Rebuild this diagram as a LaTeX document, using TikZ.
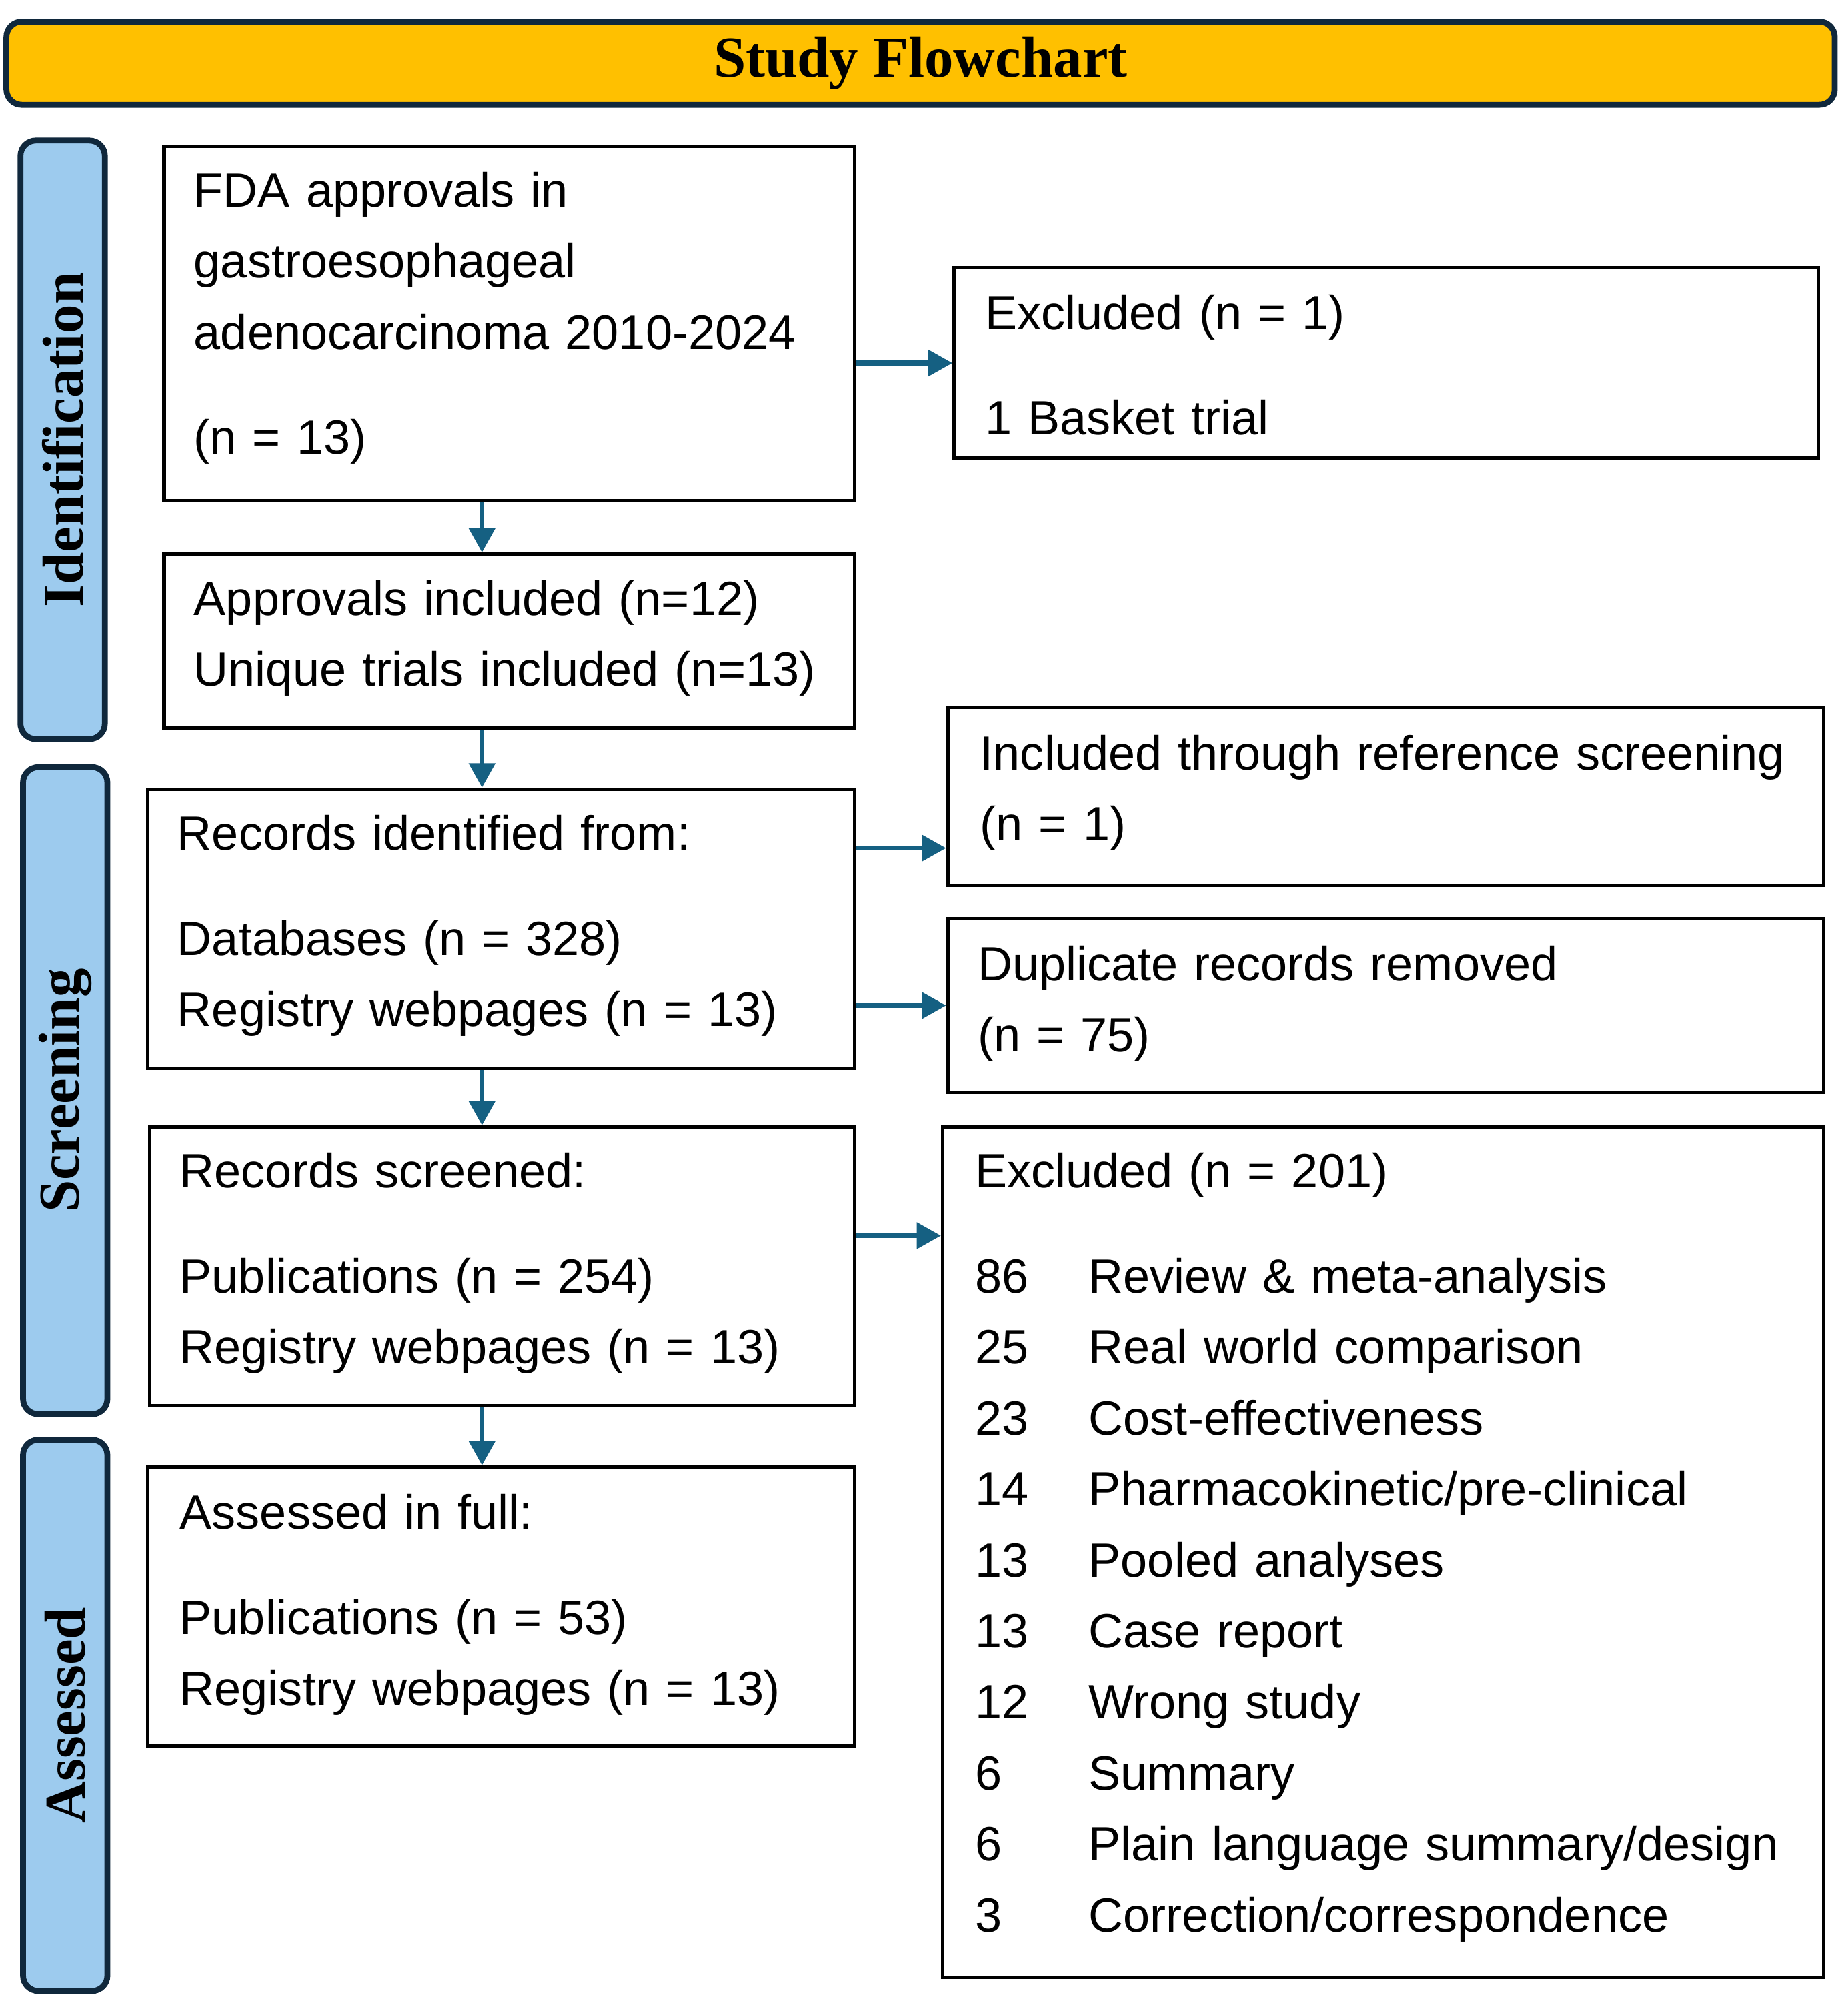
\documentclass[tikz,border=0pt]{standalone}
\usepackage{fontspec}
\setmainfont{Liberation Sans}
\newfontfamily\titlefont{Liberation Serif}
\usetikzlibrary{positioning, arrows.meta}
\usepackage{xcolor}
\definecolor{titlegold}{HTML}{FFC000}
\definecolor{framenavy}{HTML}{10283C}
\definecolor{phaseblue}{HTML}{9DCBEE}
\definecolor{arrowblue}{HTML}{156082}
\newcommand{\exitem}[2]{\makebox[0.89cm][l]{#1}#2}

\begin{document}
\begin{tikzpicture}[
    box/.style={draw=black, line width=0.75pt, anchor=north west, inner sep=0pt},
    boxtext/.style={anchor=base west, align=left, inner sep=0pt, text width=6.6cm, font=\fontsize{10.7}{15.8}\selectfont},
    phase/.style={draw=framenavy, fill=phaseblue, line width=1.3pt, rounded corners=0.12cm, rotate=90, minimum height=0.66cm, inner sep=0pt, font=\titlefont\bfseries\fontsize{12.9}{15}\selectfont},
    flow/.style={draw=arrowblue, line width=1.1pt, -{Triangle[length=1.9mm, width=2mm]}}
]
    \useasboundingbox (0,0) rectangle (14.45,15.68);

    % Title bar
    \node[draw=framenavy, fill=titlegold, line width=1.3pt, rounded corners=0.12cm, minimum width=14.30cm, minimum height=0.65cm, inner sep=0pt, font=\titlefont\bfseries\fontsize{12.9}{15}\selectfont] (title) at (7.20,15.185) {Study Flowchart};

    % Phase labels
    \node[phase, minimum width=4.68cm] (ident) at (0.49,12.24) {Identification};
    \node[phase, minimum width=5.06cm] (screen) at (0.51,7.15) {Screening};
    \node[phase, minimum width=4.31cm] (assess) at (0.51,2.265) {Assessed};

    % Main column
    \node[box, minimum width=5.40cm, minimum height=2.77cm] (fda) at (1.27,14.55) {};
    \node[boxtext] (fdatext) at ([xshift=2.4mm, yshift=-4.9mm]fda.north west) {FDA approvals in\\gastroesophageal\\adenocarcinoma 2010-2024\\[2.65mm](n = 13)};

    \node[box, minimum width=5.40cm, minimum height=1.36cm] (appr) at (1.27,11.36) {};
    \node[boxtext] (apprtext) at ([xshift=2.4mm, yshift=-4.9mm]appr.north west) {Approvals included (n=12)\\Unique trials included (n=13)};

    \node[box, minimum width=5.53cm, minimum height=2.18cm] (recid) at (1.14,9.52) {};
    \node[boxtext] (recidtext) at ([xshift=2.4mm, yshift=-4.9mm]recid.north west) {Records identified from:\\[2.65mm]Databases (n = 328)\\Registry webpages (n = 13)};

    \node[box, minimum width=5.51cm, minimum height=2.18cm] (scr) at (1.16,6.88) {};
    \node[boxtext] (scrtext) at ([xshift=2.4mm, yshift=-4.9mm]scr.north west) {Records screened:\\[2.65mm]Publications (n = 254)\\Registry webpages (n = 13)};

    \node[box, minimum width=5.53cm, minimum height=2.18cm] (full) at (1.14,4.22) {};
    \node[boxtext] (fulltext) at ([xshift=2.6mm, yshift=-5.0mm]full.north west) {Assessed in full:\\[2.65mm]Publications (n = 53)\\Registry webpages (n = 13)};

    % Side column
    \node[box, minimum width=6.76cm, minimum height=1.49cm] (excl1) at (7.45,13.60) {};
    \node[boxtext] (excl1text) at ([xshift=2.5mm, yshift=-5.0mm]excl1.north west) {Excluded (n = 1)\\[2.65mm]1 Basket trial};

    \node[box, minimum width=6.85cm, minimum height=1.39cm] (incl) at (7.40,10.16) {};
    \node[boxtext] (incltext) at ([xshift=2.6mm, yshift=-5.0mm]incl.north west) {Included through reference screening\\(n = 1)};

    \node[box, minimum width=6.85cm, minimum height=1.36cm] (dup) at (7.40,8.51) {};
    \node[boxtext] (duptext) at ([xshift=2.4mm, yshift=-5.0mm]dup.north west) {Duplicate records removed\\(n = 75)};

    \node[box, minimum width=6.89cm, minimum height=6.65cm] (excl2) at (7.36,6.88) {};
    \node[boxtext] (excl2text) at ([xshift=2.6mm, yshift=-4.9mm]excl2.north west) {Excluded (n = 201)\\[2.65mm]
        \exitem{86}{Review \& meta-analysis}\\
        \exitem{25}{Real world comparison}\\
        \exitem{23}{Cost-effectiveness}\\
        \exitem{14}{Pharmacokinetic/pre-clinical}\\
        \exitem{13}{Pooled analyses}\\
        \exitem{13}{Case report}\\
        \exitem{12}{Wrong study}\\
        \exitem{6}{Summary}\\
        \exitem{6}{Plain language summary/design}\\
        \exitem{3}{Correction/correspondence}};

    % Connectors
    \coordinate (spine) at (3.77,0);
    \draw[flow] (fda.south -| spine) -- (appr.north -| spine);
    \draw[flow] (appr.south -| spine) -- (recid.north -| spine);
    \draw[flow] (recid.south -| spine) -- (scr.north -| spine);
    \draw[flow] (scr.south -| spine) -- (full.north -| spine);
    \draw[flow] (excl1.west -| fda.east) -- (excl1.west);
    \draw[flow] ([yshift=6.3mm]recid.east) coordinate (toincl) -- (toincl -| incl.west);
    \draw[flow] (dup.west -| recid.east) -- (dup.west);
    \draw[flow] ([yshift=2.4mm]scr.east) coordinate (toexcl) -- (toexcl -| excl2.west);
\end{tikzpicture}
\end{document}
